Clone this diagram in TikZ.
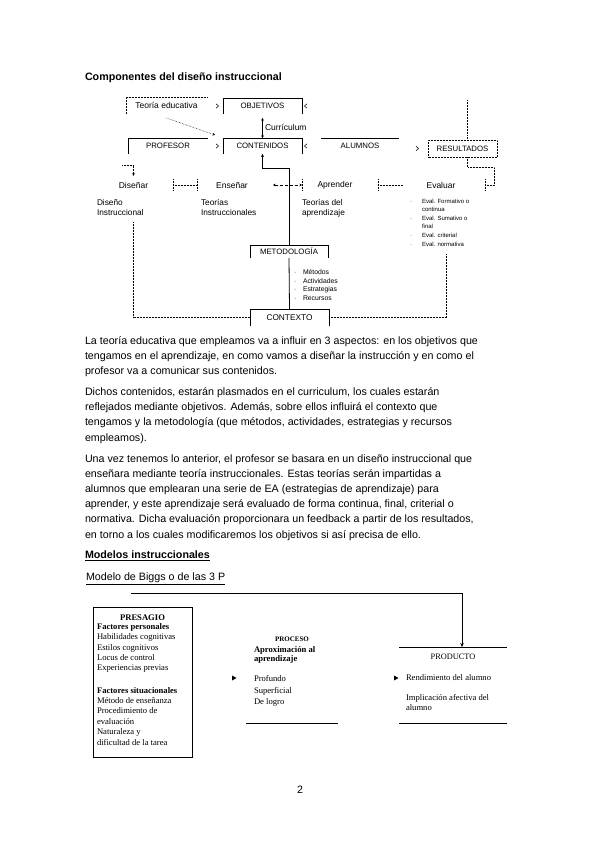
\documentclass[tikz,border=0pt]{standalone}
\usepackage{fontspec}
\setmainfont{Liberation Sans}
\newfontfamily\bgserif{Liberation Serif}
\usetikzlibrary{arrows.meta}
\newcommand{\chevr}[1]{\draw[line width=0.5pt] ([shift={(-2,-2.2)}]#1) -- ([shift={(0.6,0)}]#1) -- ([shift={(-2,2.2)}]#1);}
\newcommand{\chevl}[1]{\draw[line width=0.5pt] ([shift={(2,-2.2)}]#1) -- ([shift={(-0.6,0)}]#1) -- ([shift={(2,2.2)}]#1);}
\newcommand{\vtick}[1]{\draw[dots] ([yshift=6pt]#1) -- ([yshift=-6pt]#1);}
\begin{document}
\begin{tikzpicture}[x=1pt,y=-1pt,
  every node/.style={inner sep=0pt, outer sep=0pt},
  body/.style={anchor=base west, font=\fontsize{10.7}{13}\selectfont},
  lab/.style={font=\fontsize{8.5}{10}\selectfont},
  caplab/.style={font=\fontsize{7.8}{10}\selectfont},
  sub/.style={anchor=base west, font=\fontsize{8.3}{10}\selectfont},
  evl/.style={anchor=base west, font=\fontsize{6}{7}\selectfont},
  mth/.style={anchor=base west, font=\fontsize{6.8}{8}\selectfont},
  bul/.style={anchor=base west, text=black!45},
  dots/.style={densely dotted, line width=0.5pt},
  boxline/.style={line width=0.6pt},
  bg/.style={anchor=base west, font=\bgserif\fontsize{8.6}{10}\selectfont},
  bgb/.style={bg, font=\bgserif\bfseries\fontsize{8.6}{10}\selectfont},
  arr/.style={-{Stealth[length=2.6pt,width=2.6pt]}},
]
\useasboundingbox (0,0) rectangle (599,848);
\fill[white] (0,0) rectangle (599,848);

% ---------- title ----------
\node[body, font=\fontsize{10.7}{13}\selectfont\bfseries] (title) at (85,80.5) {Componentes del diseño instruccional};

% ---------- top row ----------
\node[lab, minimum width=81pt, minimum height=17pt] (te) at (166.5,105.5) {Teoría educativa};
\draw[dots] (te.south west) -- (te.north west) -- (te.north east);

\node[caplab, minimum width=79pt, minimum height=16pt] (obj) at (262.5,106) {OBJETIVOS};
\draw[boxline] (obj.south west) -- (obj.north west) -- (obj.north east) -- (obj.south east);

\node[caplab, minimum width=79pt, minimum height=16pt] (cont) at (262.5,146) {CONTENIDOS};
\draw[boxline] (cont.south west) -- (cont.north west) -- (cont.north east) -- (cont.south east);

\node[caplab, minimum width=80pt, minimum height=16pt] (prof) at (168,146) {PROFESOR};
\draw[boxline] (prof.south west) -- (prof.north west) -- (prof.north east);

\node[caplab, minimum width=78pt, minimum height=16pt] (alu) at (360,146) {ALUMNOS};
\draw[boxline] (alu.north west) -- (alu.north east);

\node[caplab, minimum width=69pt, minimum height=17pt] (res) at (462.5,148.5) {RESULTADOS};
\draw[dots] (res.south west) rectangle (res.north east);

% small arrow heads
\coordinate (c1) at ([xshift=-5pt]obj.west);
\coordinate (c2) at ([xshift=-5pt]cont.west);
\coordinate (c3) at ([xshift=3pt]obj.east);
\coordinate (c4) at ([xshift=3pt]cont.east);
\coordinate (c5) at ([xshift=-10pt]res.west);
\chevr{c1} \chevr{c2} \chevl{c3} \chevl{c4} \chevr{c5}

% curriculum
\draw[line width=0.6pt, {Stealth[length=2.6pt,width=2.6pt]}-{Stealth[length=2.6pt,width=2.6pt]}] ([yshift=-4pt]obj.south) -- (cont.north);
\node[lab, anchor=west] (cur) at (265,127) {Currículum};

% teoria -> contenidos
\draw[dots, arr] ([yshift=-4pt]te.south) -- ([shift={(-8pt,3pt)}]cont.north west);

% feedback line above resultados
\draw[dots] ([xshift=5pt]res.north) -- ++(0,-40);

% ---------- second row ----------
\node[lab] (dis) at (133.5,185) {Diseñar};
\node[lab] (ens) at (232,185) {Enseñar};
\node[lab] (apr) at (335,185) {Aprender};
\node[lab] (eva) at (441,185) {Evaluar};

\draw[dots, arr] (122,165) -| ([yshift=6pt]dis.north);

\coordinate (t1) at (173,185);
\coordinate (t2) at (197,185);
\draw[dots] (t1) -- (t2);
\vtick{t1} \vtick{t2}

\coordinate (e1) at (273,185);
\coordinate (e2) at (302,185);
\draw[densely dashed, line width=0.5pt, {Stealth[length=2.6pt,width=2.6pt]}-{Stealth[length=2.6pt,width=2.6pt]}] (e1) -- (e2);
\vtick{e2}

\coordinate (a1) at (378,185);
\coordinate (a2) at (403,185);
\draw[dots] (a1) -- (a2);
\vtick{a1}

\coordinate (evr) at (485,185);
\draw[dots] ([xshift=5pt]res.south) -- ++(0,10) -| ([xshift=9pt]evr) -- (evr);
\vtick{evr}

% sub texts
\node[sub] (s1a) at (97,205) {Diseño};
\node[sub] (s1b) at (97,215) {Instruccional};
\node[sub] (s2a) at (201,205) {Teorías};
\node[sub] (s2b) at (201,215) {Instruccionales};
\node[sub] (s3a) at (302,205) {Teorías del};
\node[sub] (s3b) at (302,215) {aprendizaje};

% evaluar list
\node[evl, bul] (eb1) at (410,203) {-};
\node[evl] (ev1) at (422,203) {Eval. Formativo o};
\node[evl] (ev1b) at (422,211) {continua};
\node[evl, bul] (eb2) at (410,220) {-};
\node[evl] (ev2) at (422,220) {Eval. Sumativo o};
\node[evl] (ev2b) at (422,228) {final};
\node[evl, bul] (eb3) at (410,237) {-};
\node[evl] (ev3) at (422,237) {Eval. criterial};
\node[evl, bul] (eb4) at (410,246) {-};
\node[evl] (ev4) at (422,246) {Eval. normativa};

% metodologia & contexto
\node[caplab, minimum width=78pt, minimum height=13pt] (met) at (289,251.5) {METODOLOGÍA};
\draw[boxline] (met.south west) -- (met.north west) -- (met.north east) -- (met.south east);
\node[caplab, font=\fontsize{8.3}{10}\selectfont, minimum width=79pt, minimum height=17pt] (ctx) at (289.5,317.5) {CONTEXTO};
\draw[boxline] (ctx.south west) -- (ctx.north west) -- (ctx.north east) -- (ctx.south east);

\draw[line width=0.8pt] (met.south) -- (ctx.north);
\draw[line width=0.8pt, -{Stealth[length=3pt,width=3pt]}] (met.north) |- ([yshift=-14pt]cont.south) -- (cont.south);

\node[mth, bul] (mb1) at (294,274.5) {-};
\node[mth] (m1) at (303,274.5) {Métodos};
\node[mth, bul] (mb2) at (294,283) {-};
\node[mth] (m2) at (303,283) {Actividades};
\node[mth, bul] (mb3) at (294,291.5) {-};
\node[mth] (m3) at (303,291.5) {Estrategias};
\node[mth, bul] (mb4) at (294,300.5) {-};
\node[mth] (m4) at (303,300.5) {Recursos};

% dotted loop
\draw[dots] (133,222) |- (ctx.west);
\draw[dots] (ctx.east) -| (446,253);

% ---------- paragraphs ----------
\node[body] (p1a) at (85,344.2) {La teoría educativa que empleamos va a influir en 3 aspectos: en los objetivos que};
\node[body] (p1b) at (85,359.4) {tengamos en el aprendizaje, en como vamos a diseñar la instrucción y en como el};
\node[body] (p1c) at (85,374.6) {profesor va a comunicar sus contenidos.};

\node[body] (p2a) at (85,395.5) {Dichos contenidos, estarán plasmados en el curriculum, los cuales estarán};
\node[body] (p2b) at (85,410.7) {reflejados mediante objetivos. Además, sobre ellos influirá el contexto que};
\node[body] (p2c) at (85,425.9) {tengamos y la metodología (que métodos, actividades, estrategias y recursos};
\node[body] (p2d) at (85,441.1) {empleamos).};

\node[body] (p3a) at (85,462) {Una vez tenemos lo anterior, el profesor se basara en un diseño instruccional que};
\node[body] (p3b) at (85,477.2) {enseñara mediante teoría instruccionales. Estas teorías serán impartidas a};
\node[body] (p3c) at (85,492.4) {alumnos que emplearan una serie de EA (estrategias de aprendizaje) para};
\node[body] (p3d) at (85,507.6) {aprender, y este aprendizaje será evaluado de forma continua, final, criterial o};
\node[body] (p3e) at (85,522.8) {normativa. Dicha evaluación proporcionara un feedback a partir de los resultados,};
\node[body] (p3f) at (85,538) {en torno a los cuales modificaremos los objetivos si así precisa de ello.};

\node[body, font=\fontsize{10.7}{13}\selectfont\bfseries] (mod) at (85,558.9) {\underline{Modelos instruccionales}};
\node[body] (big) at (86,580.2) {\underline{Modelo de Biggs o de las 3 P}};

% ---------- Biggs model ----------
\coordinate (bs) at (131,593);
\coordinate (pt) at (462,647);
\draw[line width=0.6pt, -{Stealth[length=4pt,width=3.5pt]}] (bs) -| (pt);

\node[draw, line width=0.6pt, minimum width=99pt, minimum height=150pt] (pres) at (142.5,682) {};
\node[bgb, anchor=base] (prt) at (142.5,620) {PRESAGIO};
\node[bgb] (pr1) at (97,629.8) {Factores personales};
\node[bg] (pr2) at (97,639.8) {Habilidades cognitivas};
\node[bg] (pr3) at (97,650.6) {Estilos cognitivos};
\node[bg] (pr4) at (97,660.8) {Locus de control};
\node[bg] (pr5) at (97,670.8) {Experiencias previas};
\node[bgb] (pr6) at (97,693.8) {Factores situacionales};
\node[bg] (pr7) at (97,703.8) {Método de enseñanza};
\node[bg] (pr8) at (97,713.8) {Procedimiento de};
\node[bg] (pr9) at (97,724.6) {evaluación};
\node[bg] (pr10) at (97,734.8) {Naturaleza y};
\node[bg] (pr11) at (97,745.6) {dificultad de la tarea};

\node[bgb, anchor=base, font=\bgserif\bfseries\fontsize{7}{9}\selectfont] (proc) at (292,641.5) {PROCESO};
\node[bgb] (pc1) at (254,652) {Aproximación al};
\node[bgb] (pc2) at (254,661.5) {aprendizaje};
\fill (232,675.5) -- (236.5,678) -- (232,680.5) -- cycle;
\node[bg] (pc3) at (254,681.7) {Profundo};
\node[bg] (pc4) at (254,693.7) {Superficial};
\node[bg] (pc5) at (254,704.7) {De logro};
\coordinate (pcl1) at (246,723);
\coordinate (pcl2) at (338,723);
\draw[line width=0.7pt] (pcl1) -- (pcl2);

\coordinate (pdl1) at (399,647);
\coordinate (pdl2) at (507,647);
\draw[line width=0.7pt] (pdl1) -- (pdl2);
\node[bg, anchor=base, font=\bgserif\fontsize{8.3}{10}\selectfont] (prod) at (453,659) {PRODUCTO};
\fill (394,675.5) -- (398.5,678) -- (394,680.5) -- cycle;
\node[bg] (pd1) at (406,680.7) {Rendimiento del alumno};
\node[bg] (pd2) at (406,700.7) {Implicación afectiva del};
\node[bg] (pd3) at (406,710.7) {alumno};
\coordinate (pdl3) at (399,723);
\coordinate (pdl4) at (507,723);
\draw[line width=0.7pt] (pdl3) -- (pdl4);

% page number
\node[body, anchor=base] (pg) at (300,793.5) {2};
\end{tikzpicture}
\end{document}
